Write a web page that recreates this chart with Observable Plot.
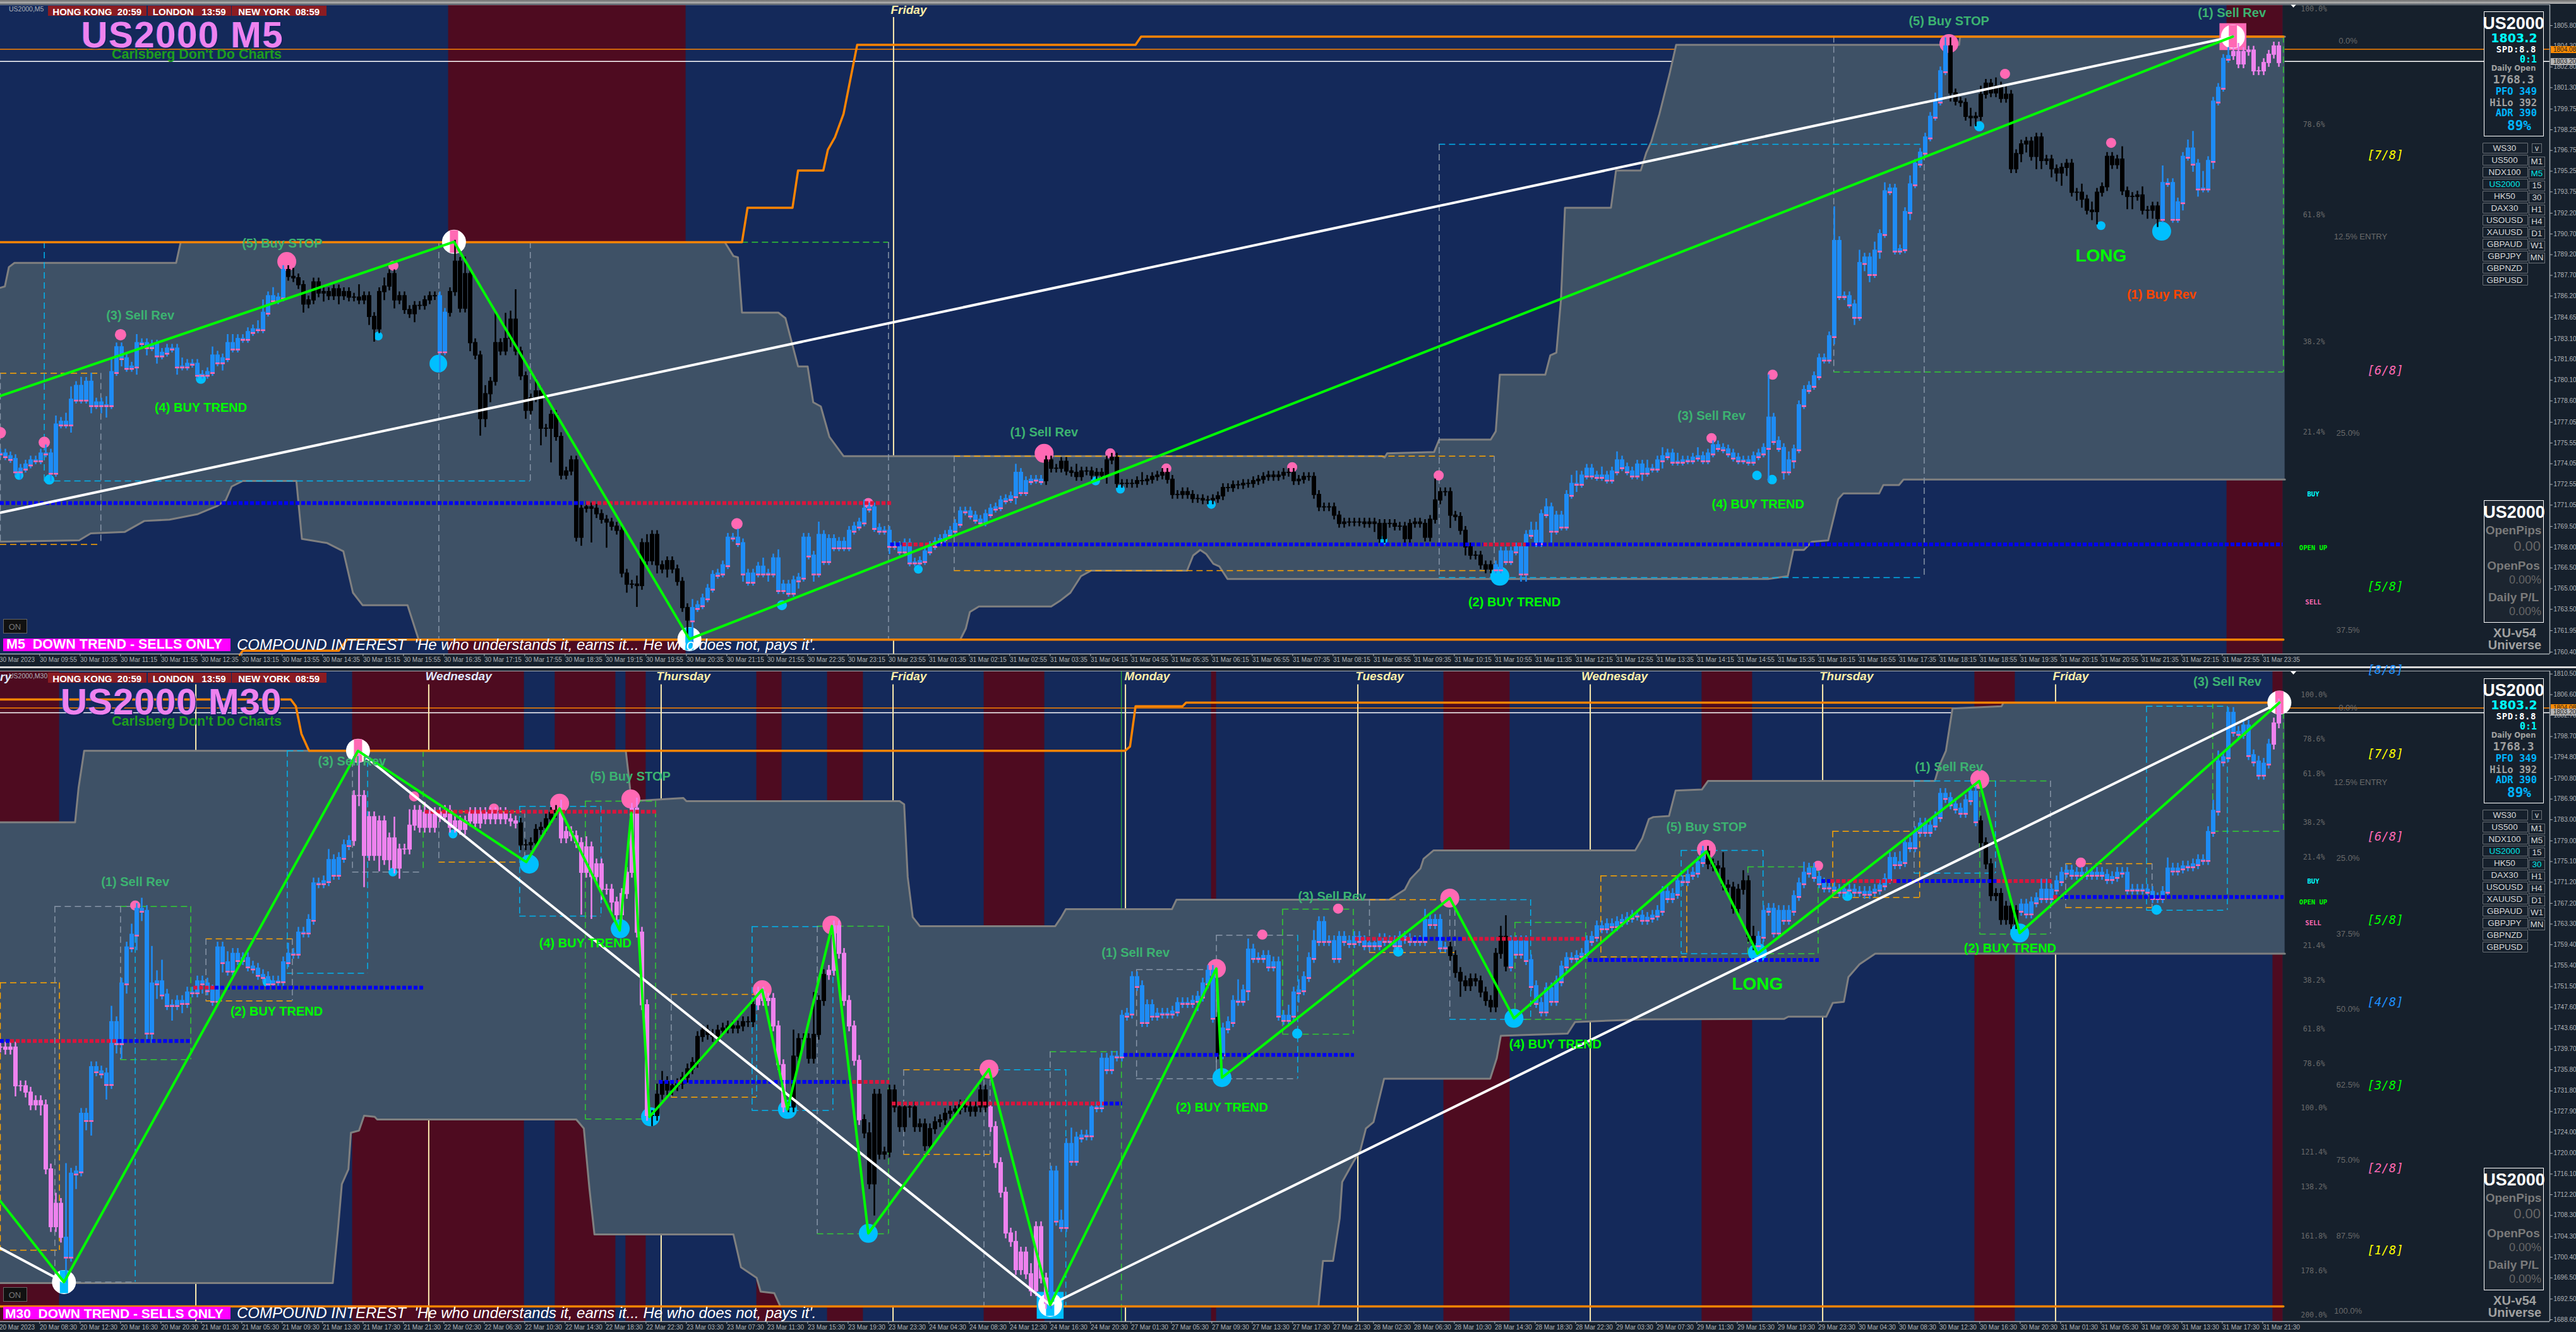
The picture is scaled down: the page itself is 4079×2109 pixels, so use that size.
<!DOCTYPE html>
<html><head><meta charset="utf-8">
<style>html,body{margin:0;padding:0;width:4079px;height:2109px;overflow:hidden;background:#16202c;font-family:"Liberation Sans",sans-serif}</style>
<script src="https://cdn.jsdelivr.net/npm/d3@7"></script>
<script src="https://cdn.jsdelivr.net/npm/@observablehq/plot@0.6"></script>
</head><body>
<script>
// ---------- M5 data (prices are offsets from m5Base) ----------
const m5Base=1760;
const m5Close=[14.8,14.6,14.4,13.5,13.7,14.0,14.3,14.3,14.8,14.8,
13.4,16.9,17.1,16.9,18.7,19.7,18.7,20.0,18.3,18.5,
18.3,18.3,20.7,22.5,21.7,21.0,21.1,22.8,22.8,22.5,
22.7,21.9,22.1,22.4,22.4,21.1,21.1,21.3,21.3,20.5,
20.5,20.7,21.9,21.4,21.7,22.8,22.4,23.1,23.1,23.6,
23.8,23.8,25.0,26.2,25.9,26.1,28.1,27.6,27.5,27.0,
25.6,25.9,27.2,26.4,26.5,26.2,26.7,26.2,26.5,26.1,
26.1,25.9,26.2,24.7,23.8,26.5,26.9,27.8,25.9,26.2,
25.2,24.9,25.5,25.5,25.9,26.2,26.2,22.2,25.0,26.5,
28.7,25.3,27.8,22.8,21.9,17.3,19.1,20.0,22.8,22.2,
23.1,24.5,22.2,20.4,17.9,18.8,19.3,16.6,16.6,17.6,
16.0,13.2,13.5,14.3,8.7,10.8,10.9,10.8,10.4,10.0,
9.8,9.5,9.2,6.1,5.3,5.3,5.2,8.3,7.0,8.9,
6.7,6.4,7.0,6.4,5.5,3.6,2.7,3.6,3.8,4.3,
5.0,6.0,6.1,6.7,8.7,8.7,8.3,6.1,5.5,6.1,
6.6,6.1,6.1,7.2,4.9,5.3,4.7,5.6,5.8,8.7,
7.4,6.1,8.9,7.0,8.6,8.0,8.4,8.0,9.2,9.5,
9.8,10.8,10.9,9.4,9.2,
9.2,8.1,8.1,7.7,8.3,6.9,6.9,7.0,7.7,8.1,
8.4,8.6,8.9,9.2,9.7,10.6,10.6,10.3,10.0,9.8,
10.4,10.8,10.9,11.4,11.5,11.7,13.4,12.0,12.8,12.9,
12.9,12.8,14.3,13.7,13.7,14.2,13.5,13.4,13.1,13.5,
13.5,13.2,13.4,13.2,14.3,14.5,12.6,12.6,12.6,12.6,
12.8,12.8,12.9,13.1,13.2,13.4,12.9,11.8,11.8,12.0,
11.8,11.5,11.5,11.4,11.4,11.5,11.7,12.3,12.3,12.5,
12.5,12.6,12.6,12.8,12.9,13.1,13.2,13.1,13.2,13.4,
13.4,12.8,12.9,13.1,13.1,11.8,10.9,10.9,10.9,10.3,
9.7,9.8,9.8,9.8,9.8,9.7,9.8,9.7,8.6,9.7,
9.7,9.5,9.5,8.6,9.7,9.8,9.7,8.7,10.0,11.4,
12.0,12.0,10.3,10.2,9.2,8.0,7.4,7.4,6.7,6.4,
6.7,6.4,7.7,7.0,7.7,8.0,6.1,8.9,9.2,8.3,
10.4,10.9,9.2,10.3,9.5,11.8,12.6,12.6,13.2,13.7,
13.2,13.1,13.2,12.9,13.5,14.3,13.8,13.5,13.2,14.0,
13.4,13.7,13.7,14.3,14.6,14.8,14.2,14.2,14.3,14.3,
14.5,14.6,
14.3,14.8,15.4,15.2,15.1,14.8,14.5,14.3,14.3,14.2,
14.6,14.8,15.2,17.4,15.7,15.2,13.5,14.3,15.1,18.3,
19.4,19.7,20.4,21.7,21.6,23.3,30.2,26.2,26.2,25.6,
24.7,28.6,29.0,27.8,29.5,30.7,33.8,34.0,29.5,29.6,
32.3,34.3,35.8,36.6,37.7,39.2,40.3,42.5,44.3,40.9,
40.3,40.2,39.2,39.1,39.2,40.8,41.6,40.9,41.4,40.5,
40.8,35.4,36.5,37.2,37.4,36.3,37.7,36.0,36.1,35.4,
35.1,35.5,35.8,33.7,33.7,33.2,32.4,32.3,33.7,34.1,
36.3,35.7,36.1,33.8,33.4,33.4,33.5,32.4,32.4,32.7,
31.8,34.4,34.4,31.8,33.0,36.3,36.9,35.8,34.0,34.0,
36.0,40.3,41.3,43.4,43.6,43.9,43.0,43.9,44.0,42.5,
42.5,43.1,43.7,44.3,43.1];
// wick lengths per bar, one base-36 digit each, in units of m5WickUnit
const m5WickUnit=0.31;
const m5WickUp=[..."1111111112"+"1212312121"+"1231111211"+"1111112111"+"1121122111"+"1231211121"+"1111111111"+"1311112111"+"1111111111"+"5141112171"+"6271113111"+"1111111111"+"1111112121"+"1111111211"+"1111112111"+"1211211111"+"1131111111"+"12111"
+"1111111111"+"1111111111"+"1111112111"+"1111111121"+"1111111111"+"1211111111"+"1111111111"+"1111111111"+"1111111111"+"1111111111"+"1111111115"+"1111111111"+"1111111122"+"1211112311"+"1121121111"+"1211211211"+"12"
+"1111111111"+"111a111211"+"1111118111"+"1311212111"+"1211112122"+"1112121121"+"2111111111"+"1111121211"+"1113111211"+"1411112414"+"1111212111"+"11111"];
const m5WickDown=[..."1111211111"+"2111211121"+"2311211212"+"1211121111"+"1111211111"+"1111111111"+"2111211211"+"1112312121"+"1121111511"+"1112142211"+"1211211428"+"1111121811"+"6111215111"+"2121114611"+"1111111211"+"1121111121"+"1211111111"+"11111"
+"1211111111"+"1111111111"+"1111112111"+"1111111111"+"1111211111"+"1111111111"+"1111111111"+"1111111111"+"1111111111"+"1111111211"+"1111111111"+"1131121111"+"1111112211"+"1131111211"+"1111111111"+"2111211111"+"11"
+"1111111111"+"1118112121"+"1111112111"+"2122121111"+"1211111112"+"1112211111"+"1112213212"+"2321221231"+"1111331122"+"2111121221"+"1211111111"+"11111"];
const m5RegimeStart=[0,57,87,89,137,207,296,386,428,442];
const m5RegimeKind=["blue","black","blue","black","blue","black","blue","black","blue","violet"];
const m5Upper=[[0,26.8],[.9,26.9],[1.7,28.3],[2.8,28.6],[34.8,28.6],[35.7,30.1],[143.4,30.1],[145.1,29.1],[146,29],[146.8,25],[154,25],[155.4,24.6],[157.9,21.1],[159.8,21.1],[160.9,18.5],[162.4,18.2],[164.1,16],[166.9,14.6],[273.4,14.6],[274,14.5],[274.5,14.8],[283.8,14.9],[284.8,15.8],[295,15.8],[296,16.4],[296.8,20.5],[305.8,20.5],[306.8,21.9],[308,22.1],[308.9,25.9],[309.7,32.6],[318.8,32.6],[319.8,35.3],[324.7,35.3],[325.8,36.6],[326.8,37.4],[328.4,39.4],[330.4,42.3],[331.7,44.4],[387.7,44.4],[387.9,45],[452.2,45]];
const m5Lower=[[0,8.4],[15.6,8.5],[17.9,9],[24.6,9.1],[28.5,9.9],[33.5,10],[39.1,10.4],[43,11],[44.6,11.4],[45.8,12.4],[48,12.8],[58.6,12.8],[59.7,8.6],[64.7,8.3],[67.9,7.7],[69.8,4.7],[71.7,3.8],[80.6,3.8],[82.8,1.3],[190,1.3],[191.1,2.1],[191.9,3.3],[193.7,3.7],[208,3.7],[209.7,4.1],[211.8,4.7],[213.9,5.9],[215.9,6.3],[234.9,6.3],[236.1,7.4],[237.5,7.8],[238.7,7.5],[240.1,6.8],[241.3,6.6],[242.9,5.7],[349.9,5.7],[353.8,5.9],[354.9,7.8],[357,7.8],[358.6,8.4],[361.8,8.5],[363.8,11.5],[364.8,11.9],[371.9,11.9],[372.7,12.5],[375.8,12.5],[376.7,12.9],[452.2,12.9]];
const m5OrangeTop=[[0,30.1],[146.8,30.1],[147.9,32.6],[156.8,32.6],[157.9,35.3],[162.9,35.3],[163.8,36.8],[165.2,37.7],[166.9,39.4],[169.6,44.4],[224.7,44.4],[225.8,45],[451.9,45]];
const m5OrangeBottom=[[47.4,.2],[48,.5],[67,.5],[68.6,1.3],[451.9,1.3]];
const m5Sessions=[[88.7,135.7],[440.7,451.8]];
const m5DayLines=[176.8];
const m5DayLabels=[["Friday",179.8]];
const m5Boxes=[[0,19.9,20.6,8.2,"o","g","g"],[8.7,104.9,30.1,12.8,"c","c","g"],[86.8,175.8,30.1,1.3,"l","g","g"],[188.8,295.7,14.6,6.3,"o","g","g"],[284.8,380.8,37.2,5.8,"c","g","g"],[362.9,451.9,45,20.7,"l","g","l"]];
const m5Levels=[[0,116,11.2,"b"],[116,176.5,11.2,"r"],[176.2,178.6,8.2,"b"],[178.6,185.4,8.2,"r"],[185.4,293.6,8.2,"b"],[293.6,302,8.2,"r"],[302,451.8,8.2,"b"]];
const m5Zig=[[0,18.96],[89.8,30.13],[136.4,1.34],[441.9,45]];
const m5White=[[[0,10.5],[441.9,45]]];
const m5Pink=[[0,16.3,9],[8.7,15.6,9],[23.8,23.4,9],[56.7,28.7,15],[77.8,28.4,8],[145.8,9.7,9],[171.8,11.2,8],[206.6,14.8,15],[219.7,14.8,8],[230.8,13.7,8],[255.7,13.8,8],[284.7,13.2,8],[338.7,15.9,8],[350.8,20.5,8],[385.7,44.5,15],[396.8,42.3,8],[417.8,37.3,8]];
const m5Cyan=[[3.7,13.2,7],[9.7,12.9,8],[39.7,20.2,8],[74.8,23.3,7],[86.7,21.3,14],[154.7,3.8,8],[181.7,6.4,7],[216.8,12.8,7],[221.7,12.2,7],[239.7,11.1,7],[273.7,8.5,7],[296.8,5.9,15],[347.7,13.2,7.5],[350.7,12.9,7.5],[391.7,38.5,8],[415.8,31.3,7],[427.8,30.9,15]];
const m5Pivots=[[89.8,30.13,"p"],[136.4,1.34,"k"],[441.9,45,"p"]];
const m5Square=[[441.9,45,"p"]];
const m5Labels=[["(5) Buy STOP",55.8,30,"s"],["(3) Sell Rev",27.7,24.8,"s"],["(4) BUY TREND",39.7,18.1,"t"],["(1) Sell Rev",206.6,16.3,"s"],["(2) BUY TREND",299.7,4,"t"],["(3) Sell Rev",338.7,17.5,"s"],["(4) BUY TREND",347.9,11.1,"t"],["(5) Buy STOP",385.7,46.1,"s"],["(1) Sell Rev",441.7,46.7,"s"],["LONG",415.8,29.1,"L"],["(1) Buy Rev",427.8,26.3,"r"]];
const m5PriceTicks=[1805.80,1804.30,1802.80,1801.30,1799.75,1798.25,1796.75,1795.25,1793.75,1792.20,1790.70,1789.20,1787.70,1786.20,1784.65,1783.10,1781.60,1780.10,1778.60,1777.05,1775.55,1774.05,1772.55,1771.05,1769.50,1768.00,1766.50,1765.00,1763.50,1761.95,1760.40];
const m5TimeLabels=["30 Mar 2023","30 Mar 09:55","30 Mar 10:35","30 Mar 11:15","30 Mar 11:55","30 Mar 12:35","30 Mar 13:15","30 Mar 13:55","30 Mar 14:35","30 Mar 15:15","30 Mar 15:55","30 Mar 16:35","30 Mar 17:15","30 Mar 17:55","30 Mar 18:35","30 Mar 19:15","30 Mar 19:55","30 Mar 20:35","30 Mar 21:15","30 Mar 21:55","30 Mar 22:35","30 Mar 23:15","30 Mar 23:55","31 Mar 01:35","31 Mar 02:15","31 Mar 02:55","31 Mar 03:35","31 Mar 04:15","31 Mar 04:55","31 Mar 05:35","31 Mar 06:15","31 Mar 06:55","31 Mar 07:35","31 Mar 08:15","31 Mar 08:55","31 Mar 09:35","31 Mar 10:15","31 Mar 10:55","31 Mar 11:35","31 Mar 12:15","31 Mar 12:55","31 Mar 13:35","31 Mar 14:15","31 Mar 14:55","31 Mar 15:35","31 Mar 16:15","31 Mar 16:55","31 Mar 17:35","31 Mar 18:15","31 Mar 18:55","31 Mar 19:35","31 Mar 20:15","31 Mar 20:55","31 Mar 21:35","31 Mar 22:15","31 Mar 22:55","31 Mar 23:35"];

// ---------- M30 data (prices are offsets from m30Base) ----------
const m30Base=1690;
const m30Close=[50.0,49.6,50.0,42.7,42.7,41.5,39.1,39.9,39.1,27.0,
16.1,20.5,14.1,10.5,26.2,26.6,37.5,36.3,46.3,45.5,
45.1,43.1,54.8,50.8,62.1,68.9,71.3,76.2,75.8,52.8,
62.1,62.5,60.0,58.0,58.0,58.8,58.4,60.4,60.4,62.5,
62.1,60.8,58.8,68.9,66.1,64.5,67.7,66.5,66.9,65.3,
64.9,63.7,63.3,62.1,62.5,62.5,66.1,67.7,67.7,71.7,
71.7,74.1,81.0,81.0,81.4,85.4,82.6,85.8,88.2,89.0,
97.5,97.5,86.2,93.5,86.2,92.7,85.4,89.5,83.8,87.4,
87.4,91.9,94.7,91.5,94.3,91.5,94.3,93.5,94.7,91.5,
92.7,91.1,92.7,94.3,92.3,94.3,93.1,94.3,93.1,94.3,
93.1,92.7,92.3,88.2,88.2,88.6,91.1,91.5,93.1,94.3,
94.7,89.5,90.7,89.9,88.6,83.0,87.8,82.2,84.6,79.8,
79.8,77.4,75.0,79.0,83.0,95.1,71.7,58.0,37.1,37.1,
41.1,43.5,41.9,42.7,43.1,44.3,45.9,47.1,52.0,53.2,
52.4,52.0,53.2,53.6,54.0,53.6,54.0,54.8,54.8,58.0,
60.4,58.8,59.2,54.0,46.7,38.7,38.7,48.3,51.6,51.6,
47.9,52.4,58.8,63.7,64.5,72.9,67.7,58.8,54.0,47.5,
36.3,33.8,24.2,41.1,29.8,30.2,41.9,38.7,35.0,38.7,
38.7,35.0,35.5,31.4,34.6,35.9,36.3,37.5,37.9,38.3,
39.1,38.7,37.9,38.7,41.9,38.7,35.0,28.2,22.6,14.9,
13.3,8.0,11.3,7.2,4.0,16.1,6.4,1.6,26.6,17.3,
16.1,31.8,28.6,33.0,33.4,33.4,38.7,38.7,47.9,45.9,
48.3,48.3,56.0,56.4,63.3,61.6,54.8,58.0,56.0,56.4,
56.4,56.4,56.8,58.4,58.4,58.4,58.8,59.6,62.1,64.5,
55.6,48.7,53.6,54.8,58.8,58.8,60.8,68.5,66.9,66.9,
67.3,65.3,66.1,56.0,55.2,56.0,60.4,60.8,63.3,66.9,
70.1,73.7,70.1,70.1,66.9,70.9,70.1,69.7,70.9,70.1,
69.3,69.7,69.3,70.5,70.1,70.1,69.3,70.9,70.5,70.1,
70.1,70.1,74.1,73.3,74.1,68.9,68.9,67.3,64.1,62.5,
61.6,62.9,62.5,60.4,58.8,57.6,67.7,70.9,65.3,70.1,
67.7,70.1,66.5,61.6,58.4,56.8,61.2,58.8,62.5,65.3,
66.9,66.9,67.3,67.7,70.1,70.9,72.9,72.5,73.3,72.9,
73.7,74.1,74.5,74.9,74.9,74.1,74.5,74.9,75.8,79.4,
78.2,79.0,81.4,81.4,82.6,83.0,85.0,87.0,84.6,84.2,
83.8,80.6,80.2,76.2,79.8,81.4,70.9,69.3,70.9,75.8,
76.2,71.7,75.8,74.1,75.8,78.6,81.0,83.0,83.8,82.2,
81.0,80.2,80.2,79.8,79.4,79.8,79.8,79.4,79.4,79.0,
79.4,79.8,80.6,81.8,85.8,84.6,85.0,88.6,87.8,90.7,
92.3,90.7,91.9,93.5,97.9,97.1,95.9,95.1,94.3,96.7,
98.3,92.7,88.6,84.6,78.6,79.0,74.1,76.6,73.3,75.8,
77.0,75.3,77.4,78.2,79.8,78.2,79.8,81.4,83.0,83.4,
82.6,83.0,82.6,83.0,82.6,83.0,82.6,81.8,82.2,83.0,
83.0,79.8,79.8,79.8,79.8,79.4,78.2,78.2,79.4,83.8,
83.4,83.8,84.2,84.2,84.6,85.4,85.4,90.7,94.7,104.0,
104.8,113.2,109.6,109.2,110.8,105.2,104.0,101.5,103.6,107.2,
111.2,114.8];
const m30WickUnit=1;
const m30WickUp=[..."1111111111"+"121e111111"+"1131112121"+"7241111111"+"1111121111"+"1111111211"+"1111121111"+"1811111141"+"1311211111"+"1111111111"+"1111111111"+"1211112111"+"1111112111"+"2211111111"+"1111111111"+"1111111511"+"1811111111"+"1121111111"+"1111111111"+"1111111111"+"1211211111"+"2131111111"+"1111111111"+"1111111111"+"1111141211"+"1111121211"+"2111111111"+"1111111111"+"1121111111"+"1111111241"+"1111111111"+"1111111111"+"1111111111"+"1111111111"+"1311121211"+"1111111211"+"1111111111"+"1111112111"+"1111111111"+"1111111111"+"1111221111"+"1111111111"+"1111111112"+"1111111122"+"1111111111"+"11"];
const m30WickDown=[..."1112111121"+"1115131231"+"1312321322"+"2311312111"+"2111211111"+"1111111111"+"1111111111"+"1261131212"+"1111111111"+"1111111111"+"1111111111"+"1111181812"+"1211111112"+"1111111111"+"1111111111"+"1111111111"+"1111111111"+"1116111111"+"2111111111"+"1111111111"+"1111111111"+"1111111111"+"1111111111"+"1111111211"+"1111111211"+"1111111211"+"1111111111"+"1111111111"+"1111111113"+"1111111111"+"1111111111"+"1111111111"+"1111111111"+"1111111111"+"1111111111"+"1111111111"+"1111111111"+"1111111111"+"1111111111"+"1111111111"+"1111111111"+"1111111111"+"1111111111"+"1111111111"+"1111111111"+"11"];
const m30RegimeStart=[0,13,70,103,111,129,150,156,164,171,196,208,241,242,287,299,338,348,392,400,450];
const m30RegimeKind=["violet","blue","violet","black","violet","black","violet","black","violet","black","violet","blue","black","blue","black","blue","black","blue","black","blue","violet"];
const m30Upper=[[0,92.5],[14.8,92.5],[15.5,99.1],[16.6,106],[123.8,106],[124.4,101.1],[124.9,96.5],[135.2,97.1],[135.8,96.5],[178,96.5],[178.9,95.9],[179.6,82.2],[180.6,74.6],[182,72.9],[208.8,72.9],[210,74.6],[210.9,76.1],[231.9,76.1],[232.8,77.9],[274.9,77.9],[278,79.8],[279.1,81.8],[281.1,83.8],[281.7,85.6],[283.7,87.2],[323.6,87.2],[325,89.5],[326.3,93.1],[327.2,93.5],[330.3,93.7],[331.6,98.5],[336.8,98.7],[338,100.3],[382.9,100.3],[383.8,103.2],[385.1,106],[386.4,114],[396.1,114.4],[396.5,115.1],[452.2,115.1]];
const m30Lower=[[0,5.5],[65.8,5.5],[66.8,15.3],[67.6,24.2],[68.9,27],[69.4,33.9],[71,34.3],[72,37.1],[74.1,36.9],[74.6,36.4],[114,36.4],[115.5,34.7],[116.6,23.4],[117.6,14.7],[145.1,14.7],[146.6,8.5],[149.7,6.5],[150.5,3.9],[153.2,3.6],[154.4,1.1],[260.9,1.1],[261.8,9.7],[263.8,9.7],[265.1,17.7],[265.6,24.6],[267.7,28.2],[269.2,30.6],[270.3,34.7],[271.8,35.9],[273.9,44.1],[294.9,44.1],[296.2,48],[297,52.2],[310.2,52.6],[311.7,54.8],[325,55.3],[353.1,55.4],[353.9,55.8],[361.4,55.8],[362.7,58.4],[364.9,58.6],[365.8,63.3],[368,65.7],[371.1,67.7],[452.2,67.7]];
const m30OrangeTop=[[0,115.7],[57.5,115.7],[58.5,114.4],[59.6,109.2],[61.1,106],[222.6,106],[223.6,106.8],[224.7,114.4],[234,114.4],[234.7,115.1],[451.9,115.1]];
const m30OrangeBottom=[[0,1.1],[451.9,1.1]];
const m30Sessions=[[0,11.7],[69.7,103.7],[109.8,121.8],[123.8,127.8],[149.7,154.7],[163.7,170.8],[194.7,206.7],[239.7,240.7],[285.7,298.8],[336.8,346.8],[390.8,398.8],[449.8,451.8]];
const m30DayLines=[38.7,84.8,130.8,176.7,222.7,268.7,314.7,360.7,406.8];
const m30DayLabels=[["Wednesday",90.7,"#dfe9ff"],["Thursday",135.2],["Friday",179.8],["Monday",227],["Tuesday",273],["Wednesday",319.5],["Thursday",365.4],["Friday",409.8]];
const m30Boxes=[[0,11.7,62.2,11.7,"o","o","o"],[10.8,26.7,76.6,5.7,"g","g","c"],[23.8,37.7,76.6,47.7,"l","g","l"],[40.7,57.8,70.5,58.8,"o","g","g"],[56.8,72.7,106,64,"c","c","c"],[69.7,83.7,106,83.1,"g","g","l"],[86.8,103.8,94.5,85,"o","g","g"],[102.8,118.9,95.5,74.8,"c","c","c"],[115.8,129.7,96.5,36.5,"l","l","l"],[132.8,149.7,60,40.6,"o","g","c"],[148.8,164.8,72.8,38.1,"c","c","c"],[161.7,175.8,72.9,14.8,"l","g","l"],[178.8,195.9,45.8,29.8,"o","g","g"],[194.7,210.9,45.8,1.1,"c","g","c"],[207.8,221.9,49.2,1.1,"l","g","l"],[224.9,240.7,64.7,44.1,"g","g","g"],[240.7,256.8,71.2,44.1,"g","g","c"],[253.8,267.8,76.1,52.5,"l","l","l"],[271,287.9,77.9,67.9,"o","g","g"],[286.9,302.9,77.9,55.3,"c","g","c"],[299.8,313.8,73.6,55.3,"l","l","l"],[316.8,333.8,82.4,67.1,"o","o","o"],[332.7,348.9,87.2,67.7,"c","c","c"],[345.9,359.8,84.1,67.7,"l","l","l"],[362.7,379.9,90.8,78.3,"o","o","o"],[378.8,394.9,100.3,82.9,"c","g","c"],[391.8,405.8,100.3,71.4,"l","l","g"],[408.8,425.9,84.7,76.4,"o","g","g"],[424.8,440.8,114.4,75.9,"c","c","c"],[437.9,451.9,115.1,90.8,"l","l","l"]];
const m30Levels=[[0,2,51.2,"b"],[2,23.3,51.2,"r"],[23.3,37.8,51.2,"b"],[38.3,42.5,61.3,"r"],[42.5,84.1,61.3,"b"],[84.1,130,94.5,"r"],[130.4,134.2,43.5,"b"],[134.2,135.2,43.5,"r"],[135.2,168.7,43.5,"b"],[168.7,176,43.5,"r"],[176.5,218.5,39.4,"r"],[218.5,222.1,39.4,"b"],[222.4,268,48.6,"b"],[268.2,279.6,70.5,"r"],[279.6,289.4,70.5,"b"],[289.4,314,70.5,"r"],[314.3,360,66.5,"b"],[360.5,362.3,81.4,"b"],[362.3,375.4,81.4,"r"],[375.4,395.2,81.4,"b"],[395.2,406.1,81.4,"r"],[406.4,407.5,78.4,"r"],[407.5,452,78.4,"b"]];
const m30Zig=[[0,21],[12.6,5.7],[70.8,106],[104.1,85],[110.7,95.1],[122.6,72.1],[124.9,94.3],[128.5,36.9],[150.8,60.9],[155.8,38.3],[164.6,72.9],[171.8,14.9],[195.7,45.9],[207.8,1.4],[240.7,64.9],[241.8,44.3],[286.9,78.2],[299.6,55.5],[337.7,87],[347.8,67.7],[391.7,100.3],[399.7,71.6],[451.1,115.1]];
const m30White=[[[0,12.1],[12.6,5.7]],[[70.8,106],[207.8,1.4]],[[207.8,1.4],[451.1,115.1]]];
const m30Pink=[[26.7,76.8,8],[81.9,97.4,8],[97.7,95.1,8],[110.7,96.1,15],[124.8,96.9,15],[150.8,60.9,15],[164.6,73.1,15],[195.7,45.9,15],[240.7,64.9,15],[249.8,71.3,8],[264.8,76.2,8],[286.9,78.2,15],[337.7,87.4,15],[359.8,84.3,8],[391.8,100.6,15],[411.8,84.9,8]];
const m30Cyan=[[52.8,62.3,7],[77.7,83.1,7],[89.6,90.3,7],[104.7,84.6,15],[122.7,72.4,15],[128.7,36.9,15],[155.8,38.3,15],[171.8,14.9,15],[241.8,44.3,15],[256.7,52.6,8],[276.7,68.1,8],[299.6,55.5,15],[347.8,67.9,15],[365.6,78.6,8],[399.7,71.6,15],[426.8,76,8]];
const m30Pivots=[[12.6,5.7,"k"],[70.8,106,"p"],[207.8,1.4,"k"],[451.1,115.1,"p"]];
const m30Square=[[207.8,1.3,"k"]];
const m30Labels=[["(1) Sell Rev",26.7,81.2,"s"],["(2) BUY TREND",54.7,56.8,"t"],["(3) Sell Rev",69.6,104,"s"],["(4) BUY TREND",115.8,69.6,"t"],["(5) Buy STOP",124.7,101.1,"s"],["(1) Sell Rev",224.7,67.9,"s"],["(2) BUY TREND",241.8,38.7,"t"],["(3) Sell Rev",263.6,78.5,"s"],["(4) BUY TREND",307.8,50.6,"t"],["(5) Buy STOP",337.7,91.6,"s"],["LONG",347.8,62,"L"],["(1) Sell Rev",385.7,102.9,"s"],["(2) BUY TREND",397.8,68.7,"t"],["(3) Sell Rev",440.8,119,"s"]];
const m30PriceTicks=[1810.50,1806.60,1802.70,1798.70,1794.80,1790.80,1786.90,1783.00,1779.00,1775.10,1771.20,1767.20,1763.30,1759.40,1755.40,1751.50,1747.60,1743.60,1739.70,1735.80,1731.80,1727.90,1724.00,1720.00,1716.10,1712.20,1708.30,1704.30,1700.40,1696.50,1692.50,1688.60];
const m30TimeLabels=["20 Mar 2023","20 Mar 08:30","20 Mar 12:30","20 Mar 16:30","20 Mar 20:30","21 Mar 01:30","21 Mar 05:30","21 Mar 09:30","21 Mar 13:30","21 Mar 17:30","21 Mar 21:30","22 Mar 02:30","22 Mar 06:30","22 Mar 10:30","22 Mar 14:30","22 Mar 18:30","22 Mar 22:30","23 Mar 03:30","23 Mar 07:30","23 Mar 11:30","23 Mar 15:30","23 Mar 19:30","23 Mar 23:30","24 Mar 04:30","24 Mar 08:30","24 Mar 12:30","24 Mar 16:30","24 Mar 20:30","27 Mar 01:30","27 Mar 05:30","27 Mar 09:30","27 Mar 13:30","27 Mar 17:30","27 Mar 21:30","28 Mar 02:30","28 Mar 06:30","28 Mar 10:30","28 Mar 14:30","28 Mar 18:30","28 Mar 22:30","29 Mar 03:30","29 Mar 07:30","29 Mar 11:30","29 Mar 15:30","29 Mar 19:30","29 Mar 23:30","30 Mar 04:30","30 Mar 08:30","30 Mar 12:30","30 Mar 16:30","30 Mar 20:30","31 Mar 01:30","31 Mar 05:30","31 Mar 09:30","31 Mar 13:30","31 Mar 17:30","31 Mar 21:30"];

const ask=1804.08, bid=1803.20;
// ---------- palette ----------
const NAVY="#14295a",RED="#4e0b20",CHAN="#3e5166",CHANLINE="#808080",ORANGE="#ff8400",GREEN="#00ff00";
const kinds={blue:"#1e8cf5",black:"#000000",violet:"#ee82ee"};
const boxCol={o:"#ffa500",c:"#00b4f0",g:"#8896a8",l:"#32cd32"};
const lvlCol={b:"#0000f5",r:"#dc143c"};
const pivCol={p:"#ff69b4",k:"#00bfff"};
const labCol={s:"#3cb371",t:"#00ff00",L:"#00ff00",r:"#ff4500"};

function panel(c){
  const B=c.base, P=p=>p+B;
  const kindAt=i=>c.regimeKind[d3.bisectRight(c.regimeStart,i)-1];
  const bars=c.close.map((cl,i)=>{
    const o=i?c.close[i-1]:cl, top=Math.max(o,cl), bot=Math.min(o,cl);
    const up=(parseInt(c.up[i],36)||0)*c.unit, dn=(parseInt(c.down[i],36)||0)*c.unit;
    return {i,top:P(top)+c.minBody,bot:P(bot)-c.minBody,hi:P(top)+up,lo:P(bot)-dn,color:kinds[kindAt(i)],kind:kindAt(i)};
  });
  const n=Math.max(c.upper.length,c.lower.length);
  const at=(a,i)=>a[Math.min(i,a.length-1)];
  const boxH=c.boxes.flatMap(b=>[[b[0],b[1],b[2],b[4]],[b[0],b[1],b[3],b[4]]]);
  const boxV=c.boxes.flatMap(b=>[[b[0],b[2],b[3],b[5]],[b[1],b[2],b[3],b[6]]]);
  const xMax=504.625;
  const [yMin,yMax]=c.domain;
  const marks=[
    Plot.rect([0],{x1:0,x2:451.8,y1:yMin,y2:yMax,fill:NAVY}),
    Plot.rect(c.sessions,{x1:d=>d[0],x2:d=>d[1],y1:yMin,y2:yMax,fill:RED}),
    Plot.ruleY([ask],{x1:0,x2:xMax,stroke:"#ff8400",strokeWidth:1.5}),
    Plot.ruleY([bid],{x1:0,x2:xMax,stroke:"#ffffff",strokeWidth:1.5}),
    Plot.ruleX(c.dayLines,{y1:yMin,y2:c.dayTop,stroke:"#ffeeb0",strokeWidth:2}),
    c.extraRule?Plot.ruleX(c.extraRule,{stroke:"#32cd32",strokeWidth:1}):null,
    Plot.area(d3.range(n),{x1:i=>at(c.upper,i)[0],y1:i=>P(at(c.upper,i)[1]),x2:i=>at(c.lower,i)[0],y2:i=>P(at(c.lower,i)[1]),fill:CHAN}),
    Plot.line(c.upper,{x:d=>d[0],y:d=>P(d[1]),stroke:CHANLINE,strokeWidth:3}),
    Plot.line(c.lower,{x:d=>d[0],y:d=>P(d[1]),stroke:CHANLINE,strokeWidth:3}),
    Plot.ruleY(boxH,{x1:d=>d[0],x2:d=>d[1],y:d=>P(d[2]),stroke:d=>boxCol[d[3]],strokeWidth:1.5,strokeDasharray:"10,6"}),
    Plot.ruleX(boxV,{x:d=>d[0],y1:d=>P(d[1]),y2:d=>P(d[2]),stroke:d=>boxCol[d[3]],strokeWidth:1.5,strokeDasharray:"10,6"}),
    Plot.line(c.orangeTop,{x:d=>d[0],y:d=>P(d[1]),stroke:ORANGE,strokeWidth:3.5}),
    Plot.line(c.orangeBottom,{x:d=>d[0],y:d=>P(d[1]),stroke:ORANGE,strokeWidth:3.5}),
    Plot.dot(c.square,{x:d=>d[0],y:d=>P(d[1]),r:24,symbol:"square",fill:d=>pivCol[d[2]],stroke:"none"}),
    Plot.dot(c.pink,{x:d=>d[0],y:d=>P(d[1]),r:d=>d[2],fill:"#ff69b4",stroke:"none"}),
    Plot.dot(c.cyan,{x:d=>d[0],y:d=>P(d[1]),r:d=>d[2],fill:"#00bfff",stroke:"none"}),
    Plot.dot(c.pivots,{x:d=>d[0],y:d=>P(d[1]),r:19,fill:"#ffffff",stroke:"none"}),
    Plot.ruleX(c.pivots,{x:d=>d[0],y1:d=>P(d[1])-c.stripe,y2:d=>P(d[1])+c.stripe,stroke:d=>pivCol[d[2]],strokeWidth:13}),
    Plot.ruleX(bars,{x:"i",y1:"lo",y2:"hi",stroke:"color",strokeWidth:2.5}),
    Plot.ruleX(bars,{x:"i",y1:"bot",y2:"top",stroke:"color",strokeWidth:7}),
    Plot.ruleX(bars.filter(d=>d.kind==="blue"),{x:"i",y1:"bot",y2:d=>d.bot-c.pinkTick,stroke:"#ff69b4",strokeWidth:7}),
    Plot.ruleY(c.levels,{x1:d=>d[0],x2:d=>d[1],y:d=>P(d[2]),stroke:d=>lvlCol[d[3]],strokeWidth:6,strokeDasharray:"6,3"}),
    ...c.white.map(seg=>Plot.line(seg,{x:d=>d[0],y:d=>P(d[1]),stroke:"#ffffff",strokeWidth:4})),
    Plot.line(c.zig,{x:d=>d[0],y:d=>P(d[1]),stroke:GREEN,strokeWidth:4}),
    Plot.text(c.labels.filter(d=>d[3]!=="L"),{x:d=>d[1],y:d=>P(d[2]),text:d=>d[0],fill:d=>labCol[d[3]],fontSize:20,fontWeight:"bold"}),
    Plot.text(c.labels.filter(d=>d[3]==="L"),{x:d=>d[1],y:d=>P(d[2]),text:d=>d[0],fill:d=>labCol[d[3]],fontSize:28,fontWeight:"bold"}),
    Plot.text(c.dayLabels,{x:d=>d[1],y:c.dayY,text:d=>d[0],fill:d=>d[2]||"#ffefa8",fontSize:19,fontWeight:"bold",fontStyle:"italic"}),
    Plot.ruleX([xMax],{stroke:"#a8aeb4",strokeWidth:1.5}),
    Plot.ruleY([yMin],{x1:0,x2:xMax,stroke:"#a8aeb4",strokeWidth:1.5}),
    Plot.ruleY([yMax],{x1:0,x2:xMax,stroke:"#a8aeb4",strokeWidth:1}),
    Plot.axisY(c.priceTicks,{anchor:"right",tickFormat:d3.format(".2f"),tickSize:4,tickPadding:2,fontSize:10,color:"#b0b4b8",label:null}),
    Plot.axisX(c.timeTicks,{anchor:"bottom",tickFormat:d=>c.timeMap.get(d),tickSize:4,tickPadding:1,fontSize:10,color:"#b0b4b8",textAnchor:"start",label:null})
  ];
  const svg=Plot.plot({
    width:4079,height:c.height,marginLeft:0,marginRight:42,marginTop:c.marginTop,marginBottom:c.marginBottom,
    x:{domain:[0,xMax]},y:{domain:c.domain},color:{type:"identity"},r:{type:"identity"},
    style:{position:"absolute",left:"0px",top:c.top+"px",background:"transparent",fontFamily:"Liberation Sans",maxWidth:"none"},
    marks:marks.filter(Boolean)
  });
  document.body.appendChild(svg);
}
function ticksOf(labels){return labels.map((_,i)=>-0.2+8*i);}
function mapOf(labels){return new Map(labels.map((l,i)=>[-0.2+8*i,l]));}

panel({base:m5Base,close:m5Close,up:m5WickUp,down:m5WickDown,unit:m5WickUnit,minBody:0.04,pinkTick:0.12,stripe:0.82,
 regimeStart:m5RegimeStart,regimeKind:m5RegimeKind,upper:m5Upper,lower:m5Lower,orangeTop:m5OrangeTop,orangeBottom:m5OrangeBottom,
 sessions:m5Sessions,dayLines:m5DayLines,dayTop:1806.4,dayLabels:m5DayLabels,dayY:1806.94,boxes:m5Boxes,levels:m5Levels,zig:m5Zig,white:m5White,
 pink:m5Pink,cyan:m5Cyan,pivots:m5Pivots,square:m5Square,labels:m5Labels,priceTicks:m5PriceTicks,timeTicks:ticksOf(m5TimeLabels),timeMap:mapOf(m5TimeLabels),
 domain:[1760.26,1807.31],height:1055,marginTop:7,marginBottom:20,top:0});
panel({base:m30Base,close:m30Close,up:m30WickUp,down:m30WickDown,unit:m30WickUnit,minBody:0.1,pinkTick:0.3,stripe:2.15,
 regimeStart:m30RegimeStart,regimeKind:m30RegimeKind,upper:m30Upper,lower:m30Lower,orangeTop:m30OrangeTop,orangeBottom:m30OrangeBottom,
 sessions:m30Sessions,dayLines:m30DayLines,dayTop:1808.5,dayLabels:m30DayLabels,dayY:1810.0,boxes:m30Boxes,levels:m30Levels,zig:m30Zig,white:m30White,extraRule:[221.9],
 pink:m30Pink,cyan:m30Cyan,pivots:m30Pivots,square:m30Square,labels:m30Labels,priceTicks:m30PriceTicks,timeTicks:ticksOf(m30TimeLabels),timeMap:mapOf(m30TimeLabels),
 domain:[1688.24,1811.06],height:1051,marginTop:4,marginBottom:17,top:1058});

// ---------- terminal overlays (real text) ----------
const body=document.body;
function box(x,y,w,h,css){const d=document.createElement("div");d.style.cssText=`position:absolute;left:${x}px;top:${y}px;width:${w}px;height:${h}px;box-sizing:border-box;${css}`;body.appendChild(d);return d;}
function put(t,x,y,css,align){const d=document.createElement("div");d.textContent=t;const a=align==="l"?"0":align==="r"?"-100%":"-50%";d.style.cssText=`position:absolute;left:${x}px;top:${y}px;transform:translate(${a},-50%);white-space:pre;line-height:1;${css}`;body.appendChild(d);}
box(0,0,4079,6,"background:linear-gradient(#6e6e6e,#bdbdbd)");
box(0,1055,4079,3,"background:#d8d8d8");
box(0,1058,4079,3,"background:#16202c");

const MONO='font-family:"DejaVu Sans Mono",monospace;';
const fibGrey=MONO+"color:#6a6a6a;font-size:11.5px;";
const sansGrey="color:#6a6a6a;font-size:13px;";
const symbols=["WS30","US500","NDX100","US2000","HK50","DAX30","USOUSD","XAUUSD","GBPAUD","GBPJPY","GBPNZD","GBPUSD"];
const periods=["M1","M5","15","30","H1","H4","D1","W1","MN"];
function dash(dy,dy2,active){
  box(3933,17.5+dy,95,198,"border:1.5px solid #fff;background:#16202c");
  put("US2000",3980,37+dy,'font-family:"Liberation Sans Narrow","Liberation Sans";font-weight:bold;color:#fff;font-size:27px;');
  put("1803.2",3981,60+dy,'font-family:"DejaVu Sans";font-weight:bold;color:#00ffff;font-size:19px;');
  put("SPD:8.8",4016,78+dy,MONO+"font-weight:bold;color:#fff;font-size:14px;letter-spacing:.6px;","r");
  put("0:1",4017,94+dy,MONO+"font-weight:bold;color:#00ffff;font-size:15px;","r");
  put("Daily Open",3980,109+dy,'font-family:"DejaVu Sans";font-weight:bold;color:#a0a0a0;font-size:11.5px;');
  put("1768.3",3980,126+dy,MONO+"font-weight:bold;color:#a0a0a0;font-size:18px;");
  put("PFO 349",4017,146+dy,MONO+"font-weight:bold;color:#00b4ff;font-size:15.5px;","r");
  put("HiLo 392",4017,164+dy,MONO+"font-weight:bold;color:#a0a0a0;font-size:15.5px;","r");
  put("ADR 390",4017,180+dy,MONO+"font-weight:bold;color:#00b4ff;font-size:15.5px;","r");
  put("89%",4008,199+dy,MONO+"font-weight:bold;color:#00b4ff;font-size:21px;","r");
  symbols.forEach((s,i)=>{
    box(3931,226+dy+i*19,72,17,"border:1px solid #6c7278;border-radius:1px;background:#16202c");
    put(s,3966,234.5+dy+i*19,`font-size:13.5px;color:${s==="US2000"?"#00e5e5":"#d8d8d8"};`);
  });
  box(4009,227+dy,16,15,"border:1px solid #6c7278;background:#16202c");
  put("v",4017,234.5+dy,"font-size:12px;color:#d8d8d8;");
  periods.forEach((s,i)=>{
    box(4004,247.5+dy+i*19,26,17,"border:1px solid #6c7278;background:#16202c");
    put(s,4017,256+dy+i*19,`font-size:13.5px;color:${s===active?"#00e5e5":"#d8d8d8"};`);
  });
  box(3933,792+dy2,95,194,"border:1.5px solid #fff;background:#1c2530");
  put("US2000",3981,811+dy2,'font-family:"Liberation Sans Narrow","Liberation Sans";font-weight:bold;color:#fff;font-size:27px;');
  put("OpenPips",3980,839+dy2,"font-weight:bold;color:#7a7a7a;font-size:19px;");
  put("0.00",4023,865+dy2,"color:#666;font-size:22px;","r");
  put("OpenPos",3980,895+dy2,"font-weight:bold;color:#7a7a7a;font-size:19px;");
  put("0.00%",4024,918+dy2,"color:#666;font-size:18px;","r");
  put("Daily P/L",3980,945+dy2,"font-weight:bold;color:#7a7a7a;font-size:19px;");
  put("0.00%",4024,968+dy2,"color:#666;font-size:18px;","r");
  put("XU-v54",3982,1002+dy2,"font-weight:bold;color:#a0a0a0;font-size:20px;");
  put("Universe",3982,1021+dy2,"font-weight:bold;color:#a0a0a0;font-size:20px;");
  // bid / ask tags
  const tagOrange=dy?1120.5:78.5, tagGrey=dy?1127.5:97.5;
  box(4039,tagOrange-5.5,40,11,"background:#ff8c00");
  put("1804.08",4043,tagOrange,"font-size:10px;color:#222;","l");
  box(4039,tagGrey-5.5,40,11,"background:#b4b4b4");
  put("1803.20",4043,tagGrey,"font-size:10px;color:#222;","l");
  box(3627,7+dy,9,5,"background:#fff;clip-path:polygon(0 0,100% 0,50% 100%)");
}
dash(0,0,"M5");
dash(1056,1057,"30");

function head(y0,name,tf,title,titleSize,ls,subY,bottomY,barY,onY){
  [["HONG KONG  20:59",76,155.5],["LONDON   13:59",234,131.5],["NEW YORK  08:59",367,149.5]].forEach(([t,x,w])=>{
    box(x,y0+9,w,16,"background:#8b1c22");
    put(t,x+w/2,y0+17.5,"font-weight:bold;color:#fff;font-size:15px;");
  });
  put(name,14,y0+14,"color:#b0b4b8;font-size:10.5px;","l");
  put(title,(tf==="M5"?289:271.5),y0+55,`font-weight:bold;color:#ee82ee;font-size:${titleSize}px;letter-spacing:${ls}px;text-shadow:1.5px 1.5px 0 #10205a,-1px 0 0 #3a5ad0;`);
  put("Carlsberg Don't Do Charts",311.5,subY,"font-weight:bold;color:#1e9e1e;font-size:21.5px;");
  box(4.5,onY,38,23,"background:#111;border:1px solid #666");
  put("ON",23.5,onY+11.5,"color:#777;font-size:13px;");
  box(4.5,barY,360.5,19.5,"background:#ff00ff");
  put(tf+"  DOWN TREND - SELLS ONLY",tf==="M5"?10:8,barY+10,"font-weight:bold;color:#fff;font-size:"+(tf==="M5"?"21.5":"21")+"px;","l");
  put("COMPOUND INTEREST  'He who understands it, earns it... He who does not, pays it'.",375,barY+10,'font-family:"Liberation Sans Narrow","Liberation Sans";font-style:italic;color:#fff;font-size:24px;',"l");
}
head(0,"US2000,M5","M5","US2000 M5",58,1.6,87,0,1011,980);
head(1056,"US2000,M30","M30","US2000 M30",58,1.2,1142.5,0,2069,2038);
put("ry",0,1071,"font-weight:bold;font-style:italic;color:#dfe9ff;font-size:19px;","l");

const fibM5=[["100.0%",15],["78.6%",197.5],["61.8%",341],["38.2%",542],["21.4%",685]];
fibM5.forEach(([t,y])=>put(t,3664,y,fibGrey));
[["0.0%",3718,63.5],["12.5% ENTRY",3738,374],["25.0%",3718,685],["37.5%",3718,997]].forEach(([t,x,y])=>put(t,x,y,sansGrey));
const octStyle=c=>MONO+`font-style:italic;font-size:19px;color:${c};`;
[["[7/8]","#ffff00",245],["[6/8]","#ff69b4",586],["[5/8]","#00ff00",928]].forEach(([t,c,y])=>put(t,3777,y,octStyle(c)));
const sigStyle=c=>MONO+`font-weight:bold;font-size:10.5px;color:${c};`;
[["BUY","#00ffff",782],["OPEN UP","#00ff00",867],["SELL","#ff69b4",953]].forEach(([t,c,y])=>put(t,3663,y,sigStyle(c)));

const fibM30=[["100.0%",1101],["78.6%",1171],["61.8%",1226],["38.2%",1303],["21.4%",1358],["21.4%",1498],["38.2%",1553],["61.8%",1630],["78.6%",1685],["100.0%",1755],["121.4%",1825],["138.2%",1880],["161.8%",1958],["178.6%",2013],["200.0%",2083]];
fibM30.forEach(([t,y])=>put(t,3664,y,fibGrey));
[["0.0%",3718,1120],["12.5% ENTRY",3738,1238],["25.0%",3718,1358],["37.5%",3718,1478],["50.0%",3718,1597],["62.5%",3718,1716.5],["75.0%",3718,1835.6],["87.5%",3718,1955.7],["100.0%",3718,2075]].forEach(([t,x,y])=>put(t,x,y,sansGrey));
[["[8/8]","#1e90ff",1060],["[7/8]","#ffff00",1193],["[6/8]","#ff69b4",1324],["[5/8]","#00ff00",1456],["[4/8]","#1e90ff",1586],["[3/8]","#00ff00",1717.6],["[2/8]","#ff69b4",1849],["[1/8]","#ffff00",1979]].forEach(([t,c,y])=>put(t,3777,y,octStyle(c)));
[["BUY","#00ffff",1395],["OPEN UP","#00ff00",1428],["SELL","#ff69b4",1461]].forEach(([t,c,y])=>put(t,3663,y,sigStyle(c)));
</script>
</body></html>
